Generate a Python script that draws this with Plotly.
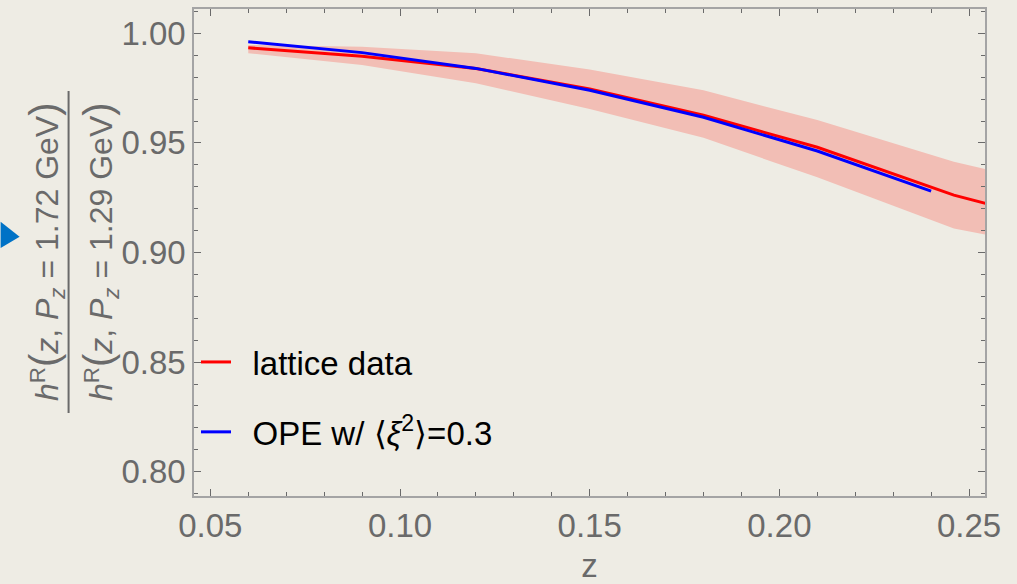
import plotly.graph_objects as go

# Ratio of renormalized matrix elements at two momenta
z_lattice = [0.06, 0.09, 0.12, 0.15, 0.18, 0.21, 0.246, 0.27]
lattice_central = [0.9934, 0.9895, 0.9840, 0.9746, 0.9626, 0.9480, 0.9262, 0.9152]
lattice_upper = [0.9947, 0.9939, 0.9909, 0.9835, 0.9740, 0.9604, 0.9414, 0.9317]
lattice_lower = [0.9909, 0.9855, 0.9772, 0.9655, 0.9523, 0.9343, 0.9110, 0.9028]

z_ope = [0.06, 0.09, 0.12, 0.15, 0.18, 0.21, 0.24]
ope_ratio = [0.9962, 0.9912, 0.9840, 0.9740, 0.9617, 0.9463, 0.9280]

x_ticks = [0.05, 0.10, 0.15, 0.20, 0.25]
y_ticks = [0.80, 0.85, 0.90, 0.95, 1.00]

W, H = 1017, 584
L, R, T, B = 193.5, 985, 9, 496
BG = "#eeece4"
GRAY = "#6a6a6a"
FONT = "Liberation Sans, Arial, sans-serif"


def px_to_paper(px, py):
    return (px - L) / (R - L), (B - py) / (B - T)


fig = go.Figure()

# uncertainty band of the lattice data
fig.add_trace(go.Scatter(x=z_lattice, y=lattice_upper, mode="lines",
                         line=dict(width=0), showlegend=False, hoverinfo="skip"))
fig.add_trace(go.Scatter(x=z_lattice, y=lattice_lower, mode="lines",
                         line=dict(width=0), fill="tonexty", fillcolor="#f2beb5",
                         showlegend=False, hoverinfo="skip"))

fig.add_trace(go.Scatter(x=z_lattice, y=lattice_central, mode="lines",
                         line=dict(color="#ff0000", width=3),
                         name="\u2002lattice data", legendgroup="a"))
fig.add_trace(go.Scatter(x=z_ope, y=ope_ratio, mode="lines",
                         line=dict(color="#0000ff", width=3),
                         name="\u2002OPE w/ \u27e8<i>\u03be</i><sup>2</sup>\u27e9=0.3",
                         legendgroup="b"))

axis_common = dict(
    showgrid=False, zeroline=False, showline=True, linecolor="#a4a4a4", linewidth=1.5,
    mirror="allticks", ticks="inside", ticklen=7, tickwidth=1, tickcolor=GRAY,
    tickfont=dict(family=FONT, size=33, color=GRAY), tickformat=".2f",
    minor=dict(ticks="inside", ticklen=4, tickwidth=1, tickcolor=GRAY, dtick=0.01,
               showgrid=False),
)

fig.update_xaxes(range=[0.0457, 0.2542], tickvals=x_ticks, **axis_common,
                 title=dict(text="z", font=dict(family=FONT, size=33, color=GRAY),
                            standoff=14))
fig.update_yaxes(range=[0.7889, 1.0111], tickvals=y_ticks, **axis_common)

# y-axis label written as a fraction
num_x, _ = px_to_paper(45.5, 0)
den_x, _ = px_to_paper(99.5, 0)
_, mid_y = px_to_paper(0, 252)
bar_x, bar_y0 = px_to_paper(68, 413)
_, bar_y1 = px_to_paper(68, 91)
label_font = dict(family=FONT, size=32, color=GRAY)
lp = "<span style='font-size:40px'>(</span>"
rp = "<span style='font-size:40px'>)</span>"
for lx, momentum in ((num_x, "1.72"), (den_x, "1.29")):
    fig.add_annotation(
        x=lx, y=mid_y, xref="paper", yref="paper", textangle=-90,
        xanchor="center", yanchor="middle", showarrow=False, font=label_font,
        text="<i>h</i><sup>R</sup>" + lp + "<i>z</i>, <i>P</i><sub><i>z</i></sub> = "
             + momentum + " GeV" + rp)
fig.add_shape(type="line", xref="paper", yref="paper", x0=bar_x, x1=bar_x,
              y0=bar_y0, y1=bar_y1, line=dict(color=GRAY, width=2))

# small blue pointer at the left edge
tri = [px_to_paper(0, 221.7), px_to_paper(19, 236.7), px_to_paper(0, 248)]
path = "M{},{} L{},{} L{},{} Z".format(*[c for p in tri for c in p])
fig.add_shape(type="path", xref="paper", yref="paper", path=path,
              fillcolor="#0072c6", line=dict(width=0))

leg_x, leg_y = px_to_paper(195.5, 334)
fig.update_layout(
    width=W, height=H,
    margin=dict(l=L, r=W - R, t=T, b=H - B, autoexpand=False),
    paper_bgcolor=BG, plot_bgcolor=BG,
    showlegend=True,
    legend=dict(x=leg_x, y=leg_y, xanchor="left", yanchor="top",
                bgcolor="rgba(0,0,0,0)", font=dict(family=FONT, size=33, color="black"),
                traceorder="grouped", tracegroupgap=24, itemwidth=30),
)

fig.write_html("out.html")
